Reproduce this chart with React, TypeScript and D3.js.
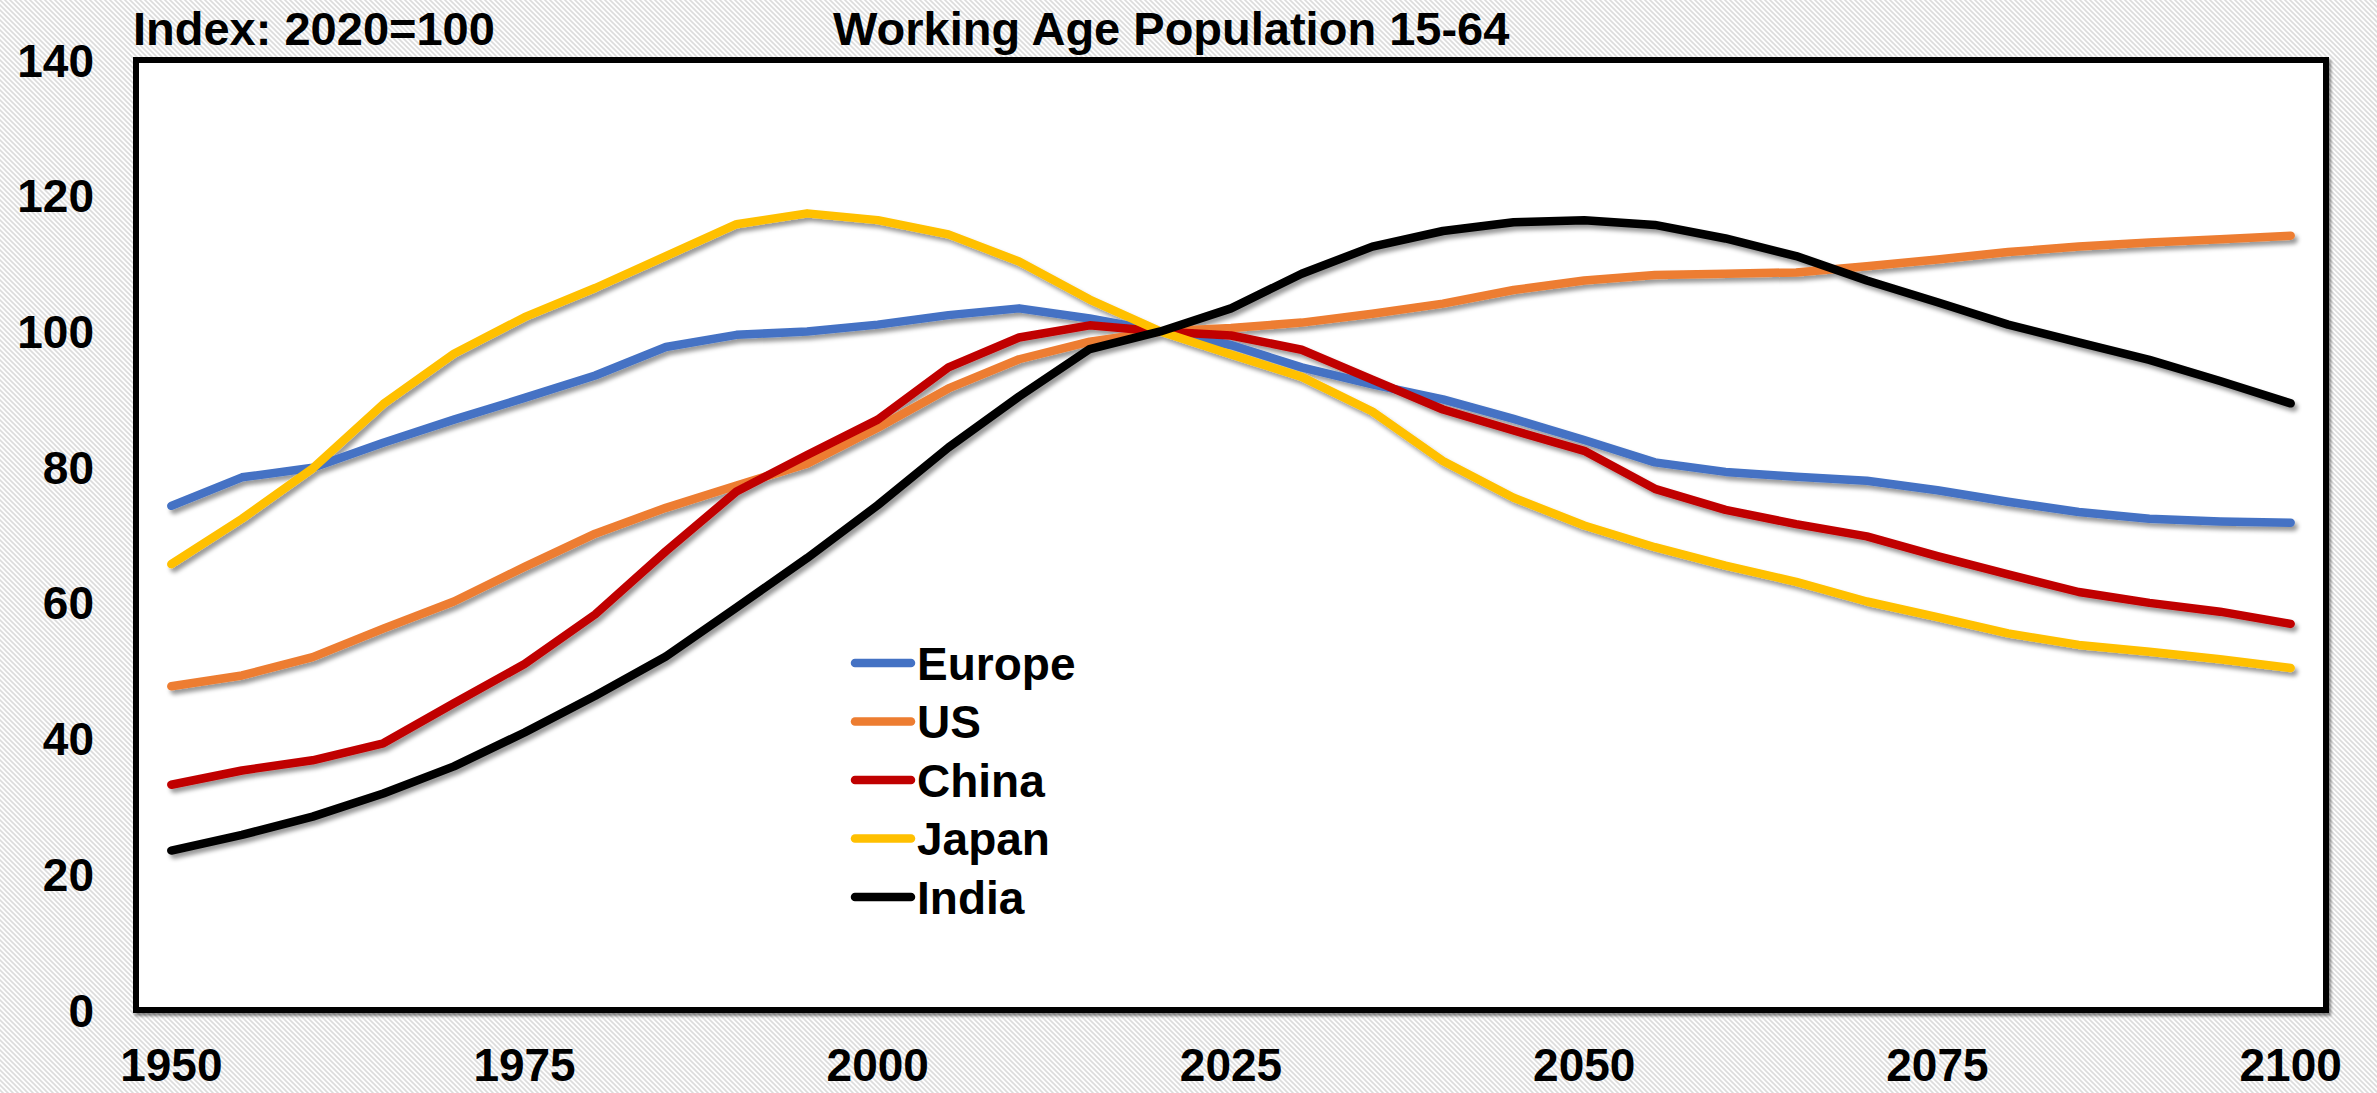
import React from "react";
import * as d3 from "d3";

// Working-age population (15-64) index, 2020 = 100, every 5 years 1950-2100
const years = d3.range(1950, 2101, 5);

const europe = [74.3, 78.5, 79.9, 83.6, 87.0, 90.2, 93.5, 97.7, 99.5, 100.0, 101.0, 102.4, 103.4, 101.9, 100, 98.0, 94.7, 92.2, 90.0, 87.1, 84.0, 80.7, 79.3, 78.6, 78.0, 76.6, 74.9, 73.4, 72.4, 72.0, 71.8];
const us = [47.7, 49.3, 52.0, 56.2, 60.2, 65.3, 70.2, 74.0, 77.3, 80.5, 85.8, 91.6, 95.9, 98.5, 100, 100.5, 101.3, 102.6, 104.1, 106.1, 107.5, 108.3, 108.5, 108.7, 109.6, 110.6, 111.7, 112.5, 113.1, 113.6, 114.1];
const china = [33.2, 35.3, 36.8, 39.3, 45.2, 51.0, 58.3, 67.6, 76.4, 81.8, 87.0, 94.7, 99.1, 100.9, 100, 99.4, 97.3, 92.9, 88.5, 85.4, 82.4, 76.8, 73.7, 71.6, 69.8, 66.9, 64.2, 61.6, 60.0, 58.7, 56.9];
const japan = [65.7, 72.4, 79.8, 89.3, 96.7, 102.1, 106.4, 111.1, 115.8, 117.4, 116.4, 114.3, 110.3, 104.7, 100, 96.6, 93.3, 88.2, 80.9, 75.5, 71.4, 68.2, 65.5, 63.1, 60.2, 57.9, 55.5, 53.8, 52.8, 51.7, 50.4];
const india = [23.5, 25.8, 28.5, 31.9, 35.9, 40.9, 46.3, 52.1, 59.3, 66.6, 74.4, 82.9, 90.4, 97.4, 100, 103.4, 108.5, 112.5, 114.8, 116.1, 116.4, 115.7, 113.7, 111.1, 107.5, 104.3, 101.0, 98.4, 95.8, 92.7, 89.4];

const seriesNames = ["Europe", "US", "China", "Japan", "India"];
const seriesValues = [europe, us, china, japan, india];
const seriesColors = ["#4472C4", "#ED7D31", "#C00000", "#FFC000", "#000000"];

const yTicks = [0, 20, 40, 60, 80, 100, 120, 140];
const xTickYears = [1950, 1975, 2000, 2025, 2050, 2075, 2100];

const W = 2377;
const H = 1093;
const FONT = "'Liberation Sans', Arial, Helvetica, sans-serif";

export default function App() {
  const left = 136, right = 2326, top = 60, bottom = 1010;

  const x = d3.scalePoint<number>().domain(years).range([left, right]).padding(0.5);
  const y = d3.scaleLinear().domain([0, 140]).range([bottom, top]);

  const line = d3
    .line<number>()
    .x((_, i) => x(years[i]) as number)
    .y((d) => y(d));

  const legendX = 855;
  const legendY0 = 663;
  const legendStep = 58.5;

  return (
    <svg
      width={W}
      height={H}
      style={{ position: "absolute", left: 0, top: 0, display: "block" }}
      fontFamily={FONT}
    >
      <defs>
        <pattern id="hatch" width="5" height="5" patternUnits="userSpaceOnUse">
          <rect width="5" height="5" fill="#ffffff" />
          <path d="M-1,-1 L6,6 M-1,4 L1,6 M4,-1 L6,1" stroke="#dcdcdc" strokeWidth="1.6" />
        </pattern>
        <filter id="shadow" x="-5%" y="-5%" width="110%" height="115%">
          <feDropShadow dx="3" dy="4" stdDeviation="2.2" floodColor="#000" floodOpacity="0.4" />
        </filter>
        <filter id="frameShadow" x="-2%" y="-2%" width="104%" height="104%">
          <feDropShadow dx="2" dy="3" stdDeviation="1.5" floodColor="#000" floodOpacity="0.45" />
        </filter>
      </defs>

      <rect x={0} y={0} width={W} height={H} fill="url(#hatch)" />

      {/* plot area */}
      <rect
        x={left}
        y={top}
        width={right - left}
        height={bottom - top}
        fill="#ffffff"
        stroke="#000"
        strokeWidth={6}
        filter="url(#frameShadow)"
      />

      {/* titles */}
      <text x={133} y={45} fontSize={47} fontWeight="bold" fill="#000">
        Index: 2020=100
      </text>
      <text x={833} y={45} fontSize={47} fontWeight="bold" fill="#000">
        Working Age Population 15-64
      </text>

      {/* y axis labels */}
      {yTicks.map((t) => (
        <text
          key={t}
          x={94}
          y={y(t)}
          dy="0.36em"
          textAnchor="end"
          fontSize={46}
          fontWeight="bold"
          fill="#000"
        >
          {t}
        </text>
      ))}

      {/* x axis labels */}
      {xTickYears.map((yr) => (
        <text
          key={yr}
          x={x(yr) as number}
          y={1081}
          textAnchor="middle"
          fontSize={46}
          fontWeight="bold"
          fill="#000"
        >
          {yr}
        </text>
      ))}

      {/* series */}
      <g filter="url(#shadow)">
        {seriesValues.map((vals, i) => (
          <path
            key={seriesNames[i]}
            d={line(vals) ?? ""}
            fill="none"
            stroke={seriesColors[i]}
            strokeWidth={8.5}
            strokeLinejoin="round"
            strokeLinecap="round"
          />
        ))}
      </g>

      {/* legend */}
      {seriesNames.map((name, i) => {
        const cy = legendY0 + i * legendStep;
        return (
          <g key={name}>
            <line
              x1={legendX}
              x2={legendX + 56}
              y1={cy}
              y2={cy}
              stroke={seriesColors[i]}
              strokeWidth={8.5}
              strokeLinecap="round"
            />
            <text x={917} y={cy} dy="0.36em" fontSize={46} fontWeight="bold" fill="#000">
              {name}
            </text>
          </g>
        );
      })}
    </svg>
  );
}
